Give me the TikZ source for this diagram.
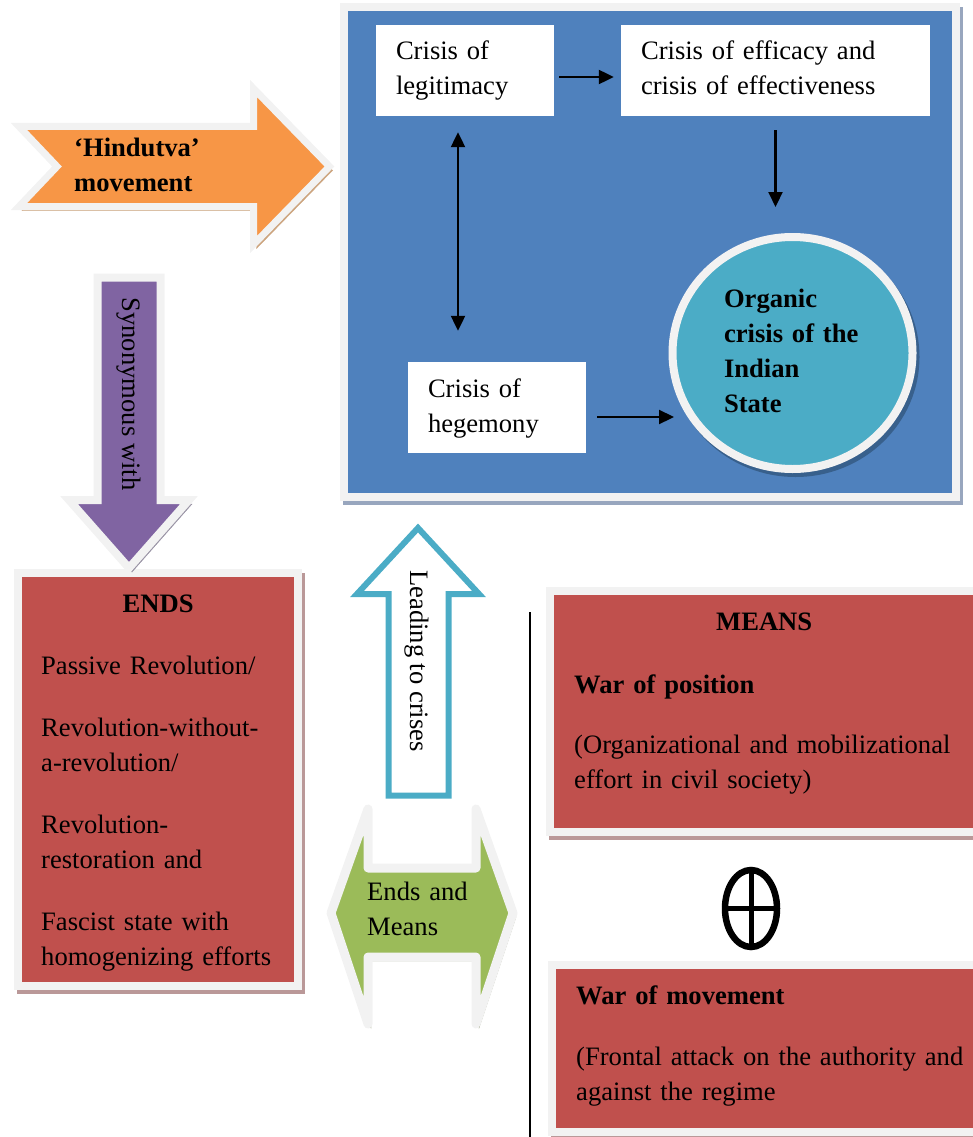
\documentclass[tikz,border=0pt]{standalone}
\usepackage{fontspec}
\setmainfont{Liberation Serif}
\usetikzlibrary{arrows.meta,shapes.geometric}

\definecolor{rimgray}{RGB}{242,242,242}
\definecolor{myorange}{RGB}{247,150,70}
\definecolor{mypurple}{RGB}{128,100,162}
\definecolor{myblue}{RGB}{79,129,189}
\definecolor{myteal}{RGB}{75,172,198}
\definecolor{myred}{RGB}{192,80,77}
\definecolor{mygreen}{RGB}{155,187,89}
\definecolor{orangeshade}{RGB}{204,164,126}
\definecolor{purpleshade}{RGB}{150,144,162}
\definecolor{blueshade}{RGB}{152,166,190}
\definecolor{tealshade}{RGB}{56,96,140}
\definecolor{redshade}{RGB}{186,152,152}
\definecolor{greenshade}{RGB}{166,172,146}

\tikzset{
    rim/.style={draw=rimgray, line width=#1},
    rim/.default=8pt,
    dropshade/.style={preaction={draw=#1, fill=#1, transform canvas={xshift=3pt, yshift=-4pt}}},
    crisisbox/.style={rectangle, fill=white, minimum height=91pt, inner xsep=20pt, inner ysep=0pt, align=left},
    redbox/.style={rectangle, fill=myred, rim, dropshade=redshade},
    para/.style={anchor=north west, inner sep=0pt, align=left},
    strutted/.style={execute at begin node=\strut, execute at end node=\strut},
    conn/.style={-{Triangle[length=15pt, width=14pt]}, line width=2.2pt},
    bothconn/.style={conn, {Triangle[length=15pt, width=14pt]}-{Triangle[length=15pt, width=14pt]}},
    bodyfont/.style={font=\fontsize{26.6pt}{35pt}\selectfont},
    boldfont/.style={font=\fontsize{26.6pt}{35pt}\selectfont\bfseries},
}
\newcommand{\heading}[1]{\makebox[\hsize]{\textbf{#1}}}

\begin{document}
\begin{tikzpicture}[x=1pt, y=-1pt, every node/.style={bodyfont}]
    \useasboundingbox (0,0) rectangle (973,1137);
    \clip (0,0) rectangle (973,1137);

    % The 'Hindutva' arrow.
    \draw[rim=7pt, fill=myorange, dropshade=orangeshade]
        (19,126.5) -- (253.5,126.5) -- (253.5,88.5) -- (329.5,166.5)
        -- (253.5,244.5) -- (253.5,206.5) -- (19,206.5) -- (57,166.5) -- cycle;
    \node[boldfont, strutted, anchor=west, inner sep=0pt, text width=130pt, align=left] (hindutva) at (74,167.5) {‘Hindutva’\\movement};

    % The crises panel.
    \node[rectangle, fill=myblue, rim, dropshade=blueshade, minimum width=612pt, minimum height=490pt] (panel) at (650,252) {};
    \node[crisisbox, strutted, minimum width=178pt, text width=138pt] (legit) at (465,70.5) {Crisis of\\legitimacy};
    \node[crisisbox, strutted, minimum width=309pt, text width=269pt] (eff) at (775.5,70.5) {Crisis of efficacy and\\crisis of effectiveness};
    \node[crisisbox, strutted, minimum width=178pt, text width=138pt] (heg) at (497,407.5) {Crisis of\\hegemony};
    \node[ellipse, fill=myteal, rim, dropshade=tealshade, minimum width=240pt, minimum height=232pt, inner sep=0pt,
        text width=137pt, align=left, boldfont, strutted] (organic) at (792.5,353) {Organic\\crisis of the\\Indian\\State};

    \coordinate (legitout) at ([yshift=-6.5pt]legit.east);
    \coordinate (legitdown) at ([xshift=-7pt]legit.south);
    \coordinate (hegout) at ([yshift=-9.5pt]heg.east);
    \draw[conn, shorten <=5pt, shorten >=7pt] (legitout) -- (legitout -| eff.west);
    \draw[conn, shorten <=14pt, shorten >=26pt] (eff.south) -- (eff.south |- organic.north);
    \draw[bothconn, shorten <=16pt, shorten >=31pt] (legitdown) -- (legitdown |- heg.north);
    \draw[conn, shorten <=11pt, shorten >=-5.5pt] (hegout) -- (hegout -| organic.west);

    % Ends.
    \node[redbox, minimum width=280pt, minimum height=413pt] (ends) at (158,779.5) {};
    \node[para, strutted, text width=234pt] (endstext) at (41,587.5) {\heading{ENDS}\\[27pt]Passive Revolution/\\[27pt]Revolution-without-\\a-revolution/\\[27pt]Revolution-\\restoration and\\[27pt]Fascist state with\\homogenizing efforts};
    \draw[rim, fill=mypurple, dropshade=purpleshade]
        (97.5,277.5) -- (160.5,277.5) -- (160.5,500) -- (189,500)
        -- (129,568) -- (69,500) -- (97.5,500) -- cycle;
    \node[rotate=-90] (synonym) at (129,394) {Synonymous with};

    % Leading to crises / ends and means.
    \draw[draw=myteal, line width=6pt, fill=white]
        (418,528) -- (479,594) -- (448.5,594) -- (448.5,795.5) -- (388.5,795.5)
        -- (388.5,594) -- (357,594) -- cycle;
    \node[rotate=-90] (leading) at (417,661) {Leading to crises};
    \draw[rim=9pt, line join=round, fill=mygreen, dropshade=greenshade]
        (331,913) -- (368,809) -- (368,868) -- (476,868) -- (476,809) -- (513,913)
        -- (476,1024) -- (476,957) -- (368,957) -- (368,1024) -- cycle;
    \node[anchor=west, inner sep=0pt, strutted, text width=110pt, align=left] (endsmeans) at (367,910.5) {Ends and\\Means};

    % Means.
    \coordinate (divtop) at (530,612);
    \coordinate (divbottom) at (530,1137);
    \draw[line width=2pt] (divtop) -- (divbottom);
    \node[redbox, minimum width=427pt, minimum height=240.5pt] (means) at (763.5,711.25) {};
    \node[para, strutted, text width=380pt] (meanstext) at (574,605.5) {\heading{MEANS}\\[28pt]\textbf{War of position}\\[25pt](Organizational and mobilizational\\effort in civil society)};
    \node[ellipse, draw, line width=6.5pt, minimum width=52pt, minimum height=77pt, inner sep=0pt] (oplus) at (751,908.5) {};
    \draw[line width=5pt] (oplus.north) -- (oplus.south);
    \draw[line width=5pt] (oplus.west) -- (oplus.east);
    \node[redbox, minimum width=425pt, minimum height=166.5pt] (movement) at (764.5,1048.25) {};
    \node[para, strutted, text width=420pt] (movetext) at (576,979.5) {\textbf{War of movement}\\[26pt](Frontal attack on the authority and\\against the regime};
\end{tikzpicture}
\end{document}
